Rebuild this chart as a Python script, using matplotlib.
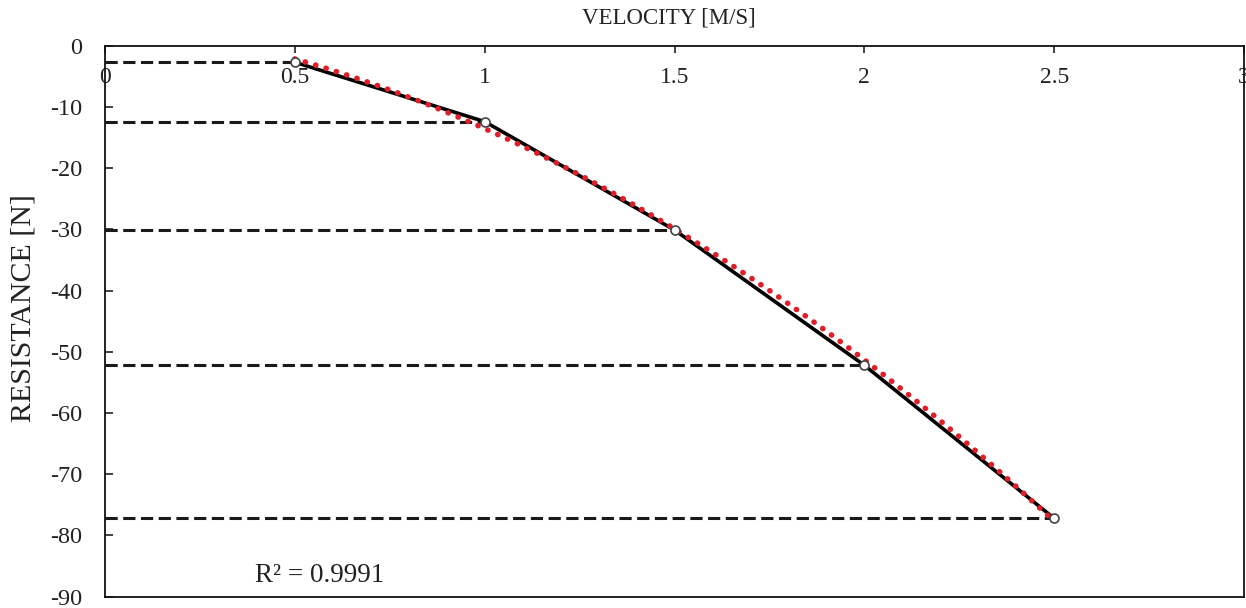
import numpy as np
import matplotlib
matplotlib.use("Agg")
import matplotlib.pyplot as plt

plt.rcParams['font.family'] = ['Liberation Serif', 'DejaVu Serif']
plt.rcParams['axes.unicode_minus'] = False

velocity = [0.5, 1.0, 1.5, 2.0, 2.5]
resistance = [-2.7, -12.4, -30.1, -52.2, -77.2]
x_ticks = [0, 0.5, 1, 1.5, 2, 2.5, 3]
x_tick_labels = ["0", "0.5", "1", "1.5", "2", "2.5", "3"]
y_ticks = [0, -10, -20, -30, -40, -50, -60, -70, -80, -90]
r2_text = "R² = 0.9991"

fig = plt.figure(figsize=(12.46, 6.08), dpi=100)
ax = fig.add_axes([105/1246, 1-596.7/608, (1244-105)/1246, (596.7-45.7)/608])

# dashed guide lines from the y axis to each point
for v, r in zip(velocity, resistance):
    ax.plot([0, v], [r, r], color='#1a1a1a', lw=2.2, ls=(0, (4.0, 1.8)), zorder=2)

# measured curve
ax.plot(velocity, resistance, color='black', lw=2.6, zorder=3)

# polynomial trendline (order 2)
coef = np.polyfit(velocity, resistance, 2)
xs = np.linspace(velocity[0], velocity[-1], 200)
ax.plot(xs, np.polyval(coef, xs), color='#e01e28', lw=4.0,
        ls=(0, (0.05, 1.9)), dash_capstyle='round', zorder=4)

ax.plot(velocity, resistance, ls='none', marker='o', ms=6.5, mfc='white',
        mec='#444444', mew=1.2, zorder=5)

ax.set_xlim(0, 3)
ax.set_ylim(-90, 0)
ax.set_xticks(x_ticks)
ax.set_xticklabels(x_tick_labels)
ax.set_yticks(y_ticks)

ax.xaxis.set_ticks_position('top')
ax.tick_params(axis='x', direction='in', length=5, width=1.2, pad=-15.5,
               labelsize=17, colors='#222222')
ax.tick_params(axis='y', direction='in', length=6, width=1.2, pad=16.5,
               labelsize=17.5, colors='#222222')
for lbl in ax.get_xticklabels():
    lbl.set_verticalalignment('top')

for s in ax.spines.values():
    s.set_linewidth(1.3)
    s.set_color('#111111')

fig.text(669/1246, 1-18/608, "VELOCITY [M/S]", ha='center', va='center',
         fontsize=16.5, color='#222222')
fig.text(24/1246, 1-308/608, "RESISTANCE [N]", ha='center', va='center',
         rotation=90, fontsize=21.5, color='#222222')
ax.text(0.395, -87.6, r2_text, fontsize=19.5, color='#222222', va='baseline', ha='left')

fig.savefig("out.png", dpi=100)
